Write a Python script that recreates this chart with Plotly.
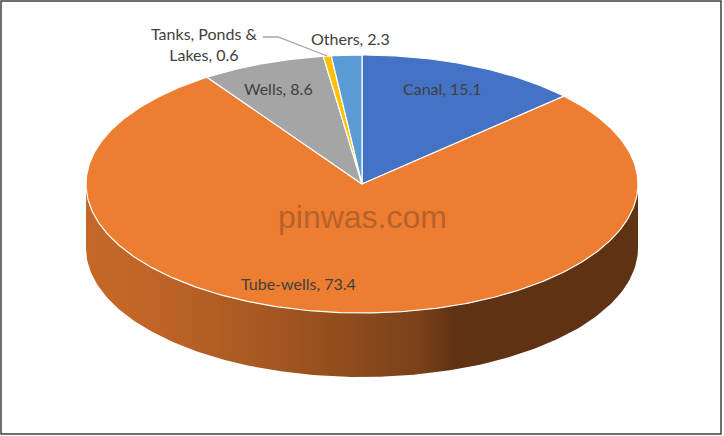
import numpy as np
import plotly.graph_objects as go

# sources of irrigation (% share)
sources = ['Canal', 'Tube-wells', 'Wells', 'Tanks, Ponds &<br>Lakes', 'Others']
shares = [15.1, 73.4, 8.6, 0.6, 2.3]
colors = ['#4472C4', '#ED7D31', '#A5A5A5', '#FFC000', '#5B9BD5']

# label placement (pixels) - where Excel put them
label_pos = [(442, 88), (298, 283), (278, 88), (204, 44), (350, 38)]

# 3d pie geometry, in pixels
cx, cy = 362, 184
rx, ry = 276, 129
depth = 64
k = 0.77   # perspective squeeze of the angles


def proj(phi):
    th = np.arctan2(k * np.sin(phi), np.cos(phi))
    return cx + rx * np.sin(th), cy - ry * np.cos(th)


def shade(hexcol, f):
    r, g, b = int(hexcol[1:3], 16), int(hexcol[3:5], 16), int(hexcol[5:7], 16)
    return 'rgb(%d,%d,%d)' % (r * f, g * f, b * f)


fig = go.Figure()

bounds = np.concatenate([[0], np.cumsum(shares)]) / sum(shares) * 2 * np.pi

# side walls first (only the front half is visible)
for i in range(len(shares)):
    lo = max(bounds[i], np.pi / 2)
    hi = min(bounds[i + 1], 3 * np.pi / 2)
    if hi <= lo:
        continue
    phi = np.linspace(lo, hi, 200)
    x, y = proj(phi)
    xs = np.concatenate([x, x[::-1], x[:1]])
    ys = np.concatenate([y, y[::-1] + depth, y[:1]])
    fig.add_trace(go.Scatter(
        x=xs, y=ys, mode='lines', fill='toself', line=dict(width=0),
        fillgradient=dict(type='horizontal', start=cx - rx, stop=cx + rx,
                          colorscale=[[0, shade(colors[i], 0.83)], [0.1, shade(colors[i], 0.82)],
                                      [0.35, shade(colors[i], 0.69)], [0.6, shade(colors[i], 0.52)],
                                      [0.67, shade(colors[i], 0.40)], [1, shade(colors[i], 0.40)]]),
        hoverinfo='skip'))

# top face
for i in range(len(shares)):
    phi = np.linspace(bounds[i], bounds[i + 1], max(int(shares[i] * 6), 8))
    x, y = proj(phi)
    fig.add_trace(go.Scatter(
        x=np.concatenate([[cx], x, [cx]]), y=np.concatenate([[cy], y, [cy]]),
        mode='lines', fill='toself', fillcolor=colors[i],
        line=dict(color='white', width=1.2), hoverinfo='skip'))

for i, (name, val) in enumerate(zip(sources, shares)):
    lx, ly = label_pos[i]
    fig.add_annotation(x=lx, y=ly, xref='x', yref='y', text='%s, %s' % (name, val),
                       showarrow=False, xanchor='center', align='center',
                       font=dict(family='Lato', size=16, color='#404040'))

# leader line for the tiny slice
ex, ey = proj((bounds[3] + bounds[4]) / 2)
fig.add_shape(type='path', xref='x', yref='y',
              path='M 263 37 L 278 37 L %.1f %.1f' % (ex, ey),
              line=dict(color='#A5A5A5', width=1.3))

# watermark
fig.add_annotation(x=cx, y=217, xref='x', yref='y', text='pinwas.com', showarrow=False,
                   font=dict(family='Liberation Sans', size=32, color='#B8622B'))

# chart border
fig.add_shape(type='rect', xref='x', yref='y', x0=1, y0=1, x1=721, y1=434,
              line=dict(color='#404040', width=1.5))

fig.update_layout(
    width=724, height=436, margin=dict(l=0, r=0, t=0, b=0),
    showlegend=False, plot_bgcolor='white', paper_bgcolor='white',
    xaxis=dict(range=[0, 724], visible=False, fixedrange=True),
    yaxis=dict(range=[436, 0], visible=False, fixedrange=True),
)

fig.write_html("out.html", config={'displayModeBar': False},
               post_script="document.body.style.margin='0';")
